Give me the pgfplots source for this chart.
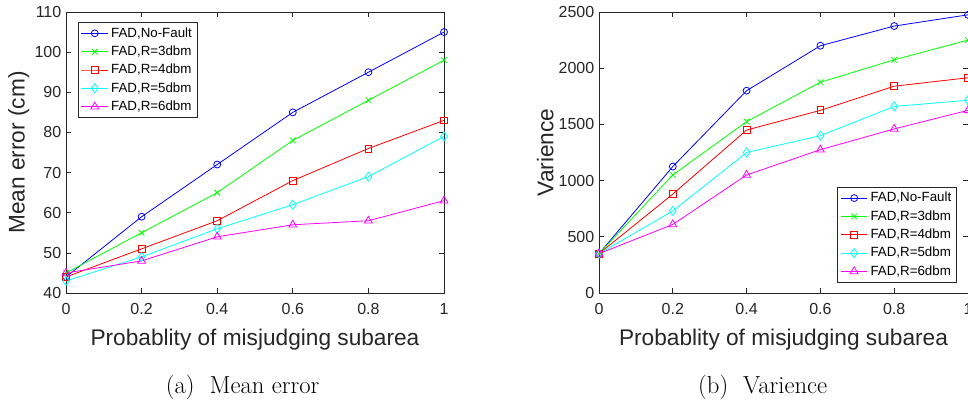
\documentclass[border=0pt]{standalone}
\usepackage{pgfplots}
\pgfplotsset{compat=1.18}
\usepackage{fontspec}
\setsansfont{Liberation Sans}
\newfontfamily\arial{Liberation Sans}

\pgfplotstableread{
p    nf    r3   r4   r5   r6
0    44    45   44   43   45
0.2  59    55   51   49   48
0.4  72    65   58   56   54
0.6  85    78   68   62   57
0.8  95    88   76   69   58
1    105   98   83   79   63
}\meanerr

\pgfplotstableread{
p    nf    r3    r4    r5    r6
0    350   350   350   350   350
0.2  1125  1050  880   730   610
0.4  1800  1525  1450  1250  1050
0.6  2200  1875  1625  1400  1275
0.8  2375  2075  1840  1660  1460
1    2475  2250  1915  1715  1625
}\varience

\definecolor{axgray}{gray}{0.15}
\definecolor{mblue}{rgb}{0,0,1}
\definecolor{mgreen}{rgb}{0,1,0}
\definecolor{mred}{rgb}{1,0,0}
\definecolor{mcyan}{rgb}{0,1,1}
\definecolor{mmagenta}{rgb}{1,0,1}

\pgfplotsset{
  matlab/.style={
    scale only axis,
    height=210.75pt,
    xmin=0, xmax=1,
    xtick={0,0.2,...,1},
    tick align=inside,
    major tick length=4pt,
    axis line style={axgray, line width=0.5pt},
    tick style={axgray, line width=0.5pt},
    every tick label/.append style={text=axgray},
    /pgf/number format/assume math mode=true,
    /pgf/number format/set thousands separator={},
    ticklabel style={font=\arial\fontsize{12}{14}\selectfont},
    xticklabel style={yshift=-4pt},
    label style={font=\arial\fontsize{17}{20}\selectfont, text=axgray},
    xlabel style={yshift=-4pt},
    ylabel style={yshift=-3pt},
    legend cell align=left,
    legend style={font=\arial\fontsize{10}{12}\selectfont, draw=axgray,
      line width=0.5pt, inner sep=2pt, row sep=1pt},
    legend image code/.code={
      \draw[mark repeat=2,mark phase=2,#1] plot coordinates {(0cm,0cm) (0.35cm,0cm) (0.7cm,0cm)};},
    every axis plot/.append style={line width=0.6pt, mark size=2.6pt, mark options={solid, fill=none}},
  },
}

\begin{document}
\begin{tikzpicture}
\useasboundingbox (0pt,0pt) rectangle (726pt,303.75pt);

\begin{axis}[matlab,
  at={(49.5pt,84pt)}, anchor=south west,
  width=283.5pt,
  ymin=40, ymax=110, ytick={40,50,...,110},
  xlabel={Probablity of misjudging subarea},
  ylabel={Mean error (cm)},
  legend style={at={(0.032,0.965)}, anchor=north west},
]
\addplot[mblue, mark=o] table[x=p, y=nf] {\meanerr};
\addplot[mgreen, mark=x, mark size=3pt] table[x=p, y=r3] {\meanerr};
\addplot[mred, mark=square] table[x=p, y=r4] {\meanerr};
\addplot[mcyan, mark=diamond, mark size=3.4pt] table[x=p, y=r5] {\meanerr};
\addplot[mmagenta, mark=triangle, mark size=3.4pt] table[x=p, y=r6] {\meanerr};
\legend{FAD{,}No-Fault, FAD{,}R=3dbm, FAD{,}R=4dbm, FAD{,}R=5dbm, FAD{,}R=6dbm}
\end{axis}

\begin{axis}[matlab,
  at={(449.25pt,84pt)}, anchor=south west,
  width=276.75pt,
  ymin=0, ymax=2500, ytick={0,500,...,2500},
  scaled y ticks=false,
  xlabel={Probablity of misjudging subarea},
  ylabel={Varience},
  legend style={at={(0.97,0.036)}, anchor=south east},
]
\addplot[mblue, mark=o] table[x=p, y=nf] {\varience};
\addplot[mgreen, mark=x, mark size=3pt] table[x=p, y=r3] {\varience};
\addplot[mred, mark=square] table[x=p, y=r4] {\varience};
\addplot[mcyan, mark=diamond, mark size=3.4pt] table[x=p, y=r5] {\varience};
\addplot[mmagenta, mark=triangle, mark size=3.4pt] table[x=p, y=r6] {\varience};
\legend{FAD{,}No-Fault, FAD{,}R=3dbm, FAD{,}R=4dbm, FAD{,}R=5dbm, FAD{,}R=6dbm}
\end{axis}

\node[font=\fontsize{18.5}{22}\selectfont, inner sep=0pt] at (182pt,13pt) {(a)\ \ Mean error};
\node[font=\fontsize{18.5}{22}\selectfont, inner sep=0pt] at (572pt,13pt) {(b)\ \ Varience};
\end{tikzpicture}
\end{document}
